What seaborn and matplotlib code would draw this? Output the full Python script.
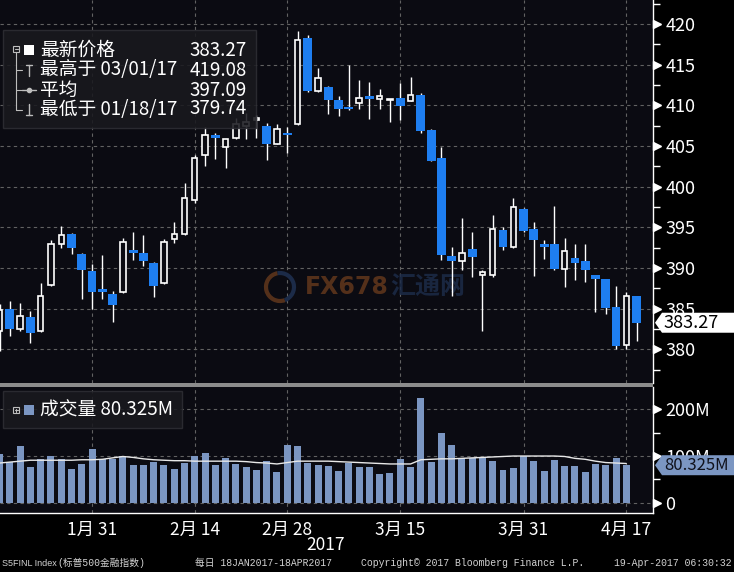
import numpy as np
import pandas as pd
import matplotlib
matplotlib.use("Agg")
import matplotlib.pyplot as plt
from matplotlib.patches import Rectangle, Polygon, Arc
from matplotlib.transforms import blended_transform_factory, ScaledTranslation, IdentityTransform
import seaborn as sns

# trading days 18 Jan - 18 Apr 2017 (NYSE closed 20 Feb and 14 Apr)
holidays = ['2017-02-20', '2017-04-14']
dates = pd.bdate_range('2017-01-18', '2017-04-18')
dates = dates[~dates.isin(pd.to_datetime(holidays))]

# S5FINL daily OHLC
opens = [382.2, 385.0, 382.5, 384.0, 382.3, 387.9, 393.0, 394.2, 391.7, 389.6,
         387.4, 386.8, 387.0, 392.2, 391.9, 390.6, 388.1, 393.6, 394.15, 398.4,
         403.9, 406.35, 404.85, 405.95, 407.5, 408.2, 407.4, 405.3, 406.6, 407.7,
         418.3, 411.75, 412.3, 410.7, 409.75, 410.3, 411.1, 410.75, 410.6, 410.9,
         410.55, 411.3, 407.0, 403.5, 391.5, 390.9, 392.3, 389.2, 389.2, 394.7,
         392.6, 397.3, 394.8, 392.95, 392.95, 389.85, 391.2, 390.8, 389.15, 388.65,
         385.2, 380.5, 386.55]
highs = [385.6, 386.0, 385.7, 384.75, 388.1, 393.45, 395.2, 394.3, 391.8, 390.5,
         391.6, 387.2, 393.7, 394.4, 394.1, 390.7, 393.6, 395.6, 400.4, 403.9,
         407.3, 406.6, 405.9, 408.5, 409.0, 408.8, 407.8, 407.7, 407.3, 419.08,
         418.6, 414.6, 412.4, 411.15, 415.0, 413.1, 412.9, 412.0, 410.75, 412.7,
         413.5, 411.55, 407.1, 404.9, 392.6, 396.2, 394.4, 389.75, 396.5, 395.1,
         398.6, 397.4, 395.6, 393.45, 397.6, 393.65, 392.95, 392.95, 389.2, 388.7,
         387.8, 387.0, 386.6]
lows = [379.74, 381.6, 382.3, 380.8, 382.1, 387.8, 392.4, 391.7, 386.2, 385.0,
        386.2, 383.4, 386.9, 391.0, 390.25, 386.4, 388.0, 393.1, 394.0, 398.0,
        402.6, 403.4, 402.3, 405.9, 405.8, 405.95, 403.3, 405.2, 404.2, 407.6,
        411.6, 411.7, 408.9, 408.7, 409.4, 409.5, 408.3, 409.5, 407.9, 408.2,
        410.5, 406.65, 403.1, 391.0, 386.55, 389.7, 388.9, 382.3, 388.9, 392.2,
        392.5, 394.4, 389.05, 391.1, 389.8, 387.7, 388.5, 388.3, 384.6, 384.4,
        380.1, 380.1, 381.0]
closes = [384.8, 382.5, 384.1, 382.0, 386.6, 393.0, 394.1, 392.4, 389.7, 387.0,
          387.1, 385.5, 393.2, 391.8, 390.8, 387.8, 393.2, 394.15, 398.6, 403.5,
          406.4, 405.95, 405.8, 407.7, 408.0, 408.5, 405.25, 407.1, 406.4, 418.0,
          411.75, 413.4, 410.7, 409.5, 409.55, 410.9, 410.8, 411.1, 410.7, 409.9,
          411.3, 406.9, 403.2, 391.6, 390.9, 391.8, 391.4, 389.5, 394.75, 392.6,
          397.5, 394.55, 393.4, 392.6, 389.85, 392.1, 390.65, 389.7, 388.7, 385.1,
          380.4, 386.5, 383.27]

# volume in millions (no bar for the last day) and its moving average
volumes = [104, 88, 121, 76, 94, 101, 94, 72, 83, 115,
           94, 93, 101, 81, 81, 88, 81, 72, 86, 99,
           106, 81, 96, 83, 76, 70, 89, 66, 124, 121,
           85, 81, 79, 68, 86, 76, 76, 61, 64, 94,
           76, 225, 88, 150, 124, 96, 96, 98, 89, 70,
           74, 100, 89, 68, 91, 79, 79, 66, 83, 81,
           96, 80.325]
vol_avg = [85, 87, 89, 91, 91, 91, 91, 91, 92, 92,
           93, 96, 99, 97, 94, 92, 91, 90, 90, 89,
           89, 89, 89, 89, 88, 86, 85, 83, 86, 89,
           89, 89, 89, 88, 87, 86, 85, 84, 83, 83,
           83, 92, 93, 94, 94, 95, 96, 97, 98, 99,
           100, 100, 100, 100, 100, 99, 95, 93, 89, 86,
           85, 84]

tick_dates = ['2017-01-31', '2017-02-14', '2017-02-28', '2017-03-15', '2017-03-31', '2017-04-17']
tick_labels = ['1月 31', '2月 14', '2月 28', '3月 15', '3月 31', '4月 17']
minor_dates = ['2017-01-20', '2017-02-07', '2017-02-21', '2017-03-08', '2017-03-23', '2017-04-07']
price_ticks = [380, 385, 390, 395, 400, 405, 410, 415, 420]
vol_ticks = [0, 100, 200]
vol_tick_labels = ['0', '100M', '200M']

bg = '#0b0b12'
blue = '#1e7ef0'
vol_color = '#7b96c2'
grid_color = '#626262'

sns.set_theme(style="dark", rc={'axes.facecolor': bg, 'figure.facecolor': 'black',
                                'savefig.facecolor': 'black'})
plt.rcParams['font.family'] = ['Noto Sans CJK SC', 'DejaVu Sans']

df = pd.DataFrame({'date': dates, 'open': opens, 'high': highs, 'low': lows, 'close': closes})
df['pos'] = np.arange(len(df))
vol_df = pd.DataFrame({'pos': df['pos'][:len(volumes)].values, 'volume': volumes, 'avg': vol_avg})

def pos_of(ds):
    return [int(np.where(df['date'] == pd.Timestamp(d))[0][0]) for d in ds]

W, H = 734, 572
fig = plt.figure(figsize=(W / 100, H / 100), dpi=100, facecolor='black')

def frac(x0, y0, x1, y1):
    return [x0 / W, 1 - y1 / H, (x1 - x0) / W, (y1 - y0) / H]

ax = fig.add_axes(frac(0, 0, 653, 383))
axv = fig.add_axes(frac(0, 387, 653, 513), sharex=ax)

# candles
up = df['close'] >= df['open']
bottom = df[['open', 'close']].min(axis=1)
height = (df['close'] - df['open']).abs().clip(lower=0.12)
ax.vlines(df['pos'], df['low'], df['high'], color='white', lw=1, zorder=3)
ax.bar(df['pos'][up], height[up], bottom=bottom[up], width=0.52,
       facecolor=bg, edgecolor='white', lw=1.2, zorder=4)
ax.bar(df['pos'][~up], height[~up], bottom=bottom[~up], width=0.86,
       color=blue, lw=0, zorder=4)

# volume
sns.barplot(data=vol_df, x='pos', y='volume', native_scale=True, width=0.68,
            color=vol_color, saturation=1, errorbar=None, linewidth=0, ax=axv)
sns.lineplot(data=vol_df, x='pos', y='avg', color='#e8e8e8', lw=1, ax=axv)

ax.set_xlim(0.04, 63.6)
ax.set_ylim(375.86, 422.95)
axv.set_ylim(-22, 247.8)

for a in (ax, axv):
    a.set_facecolor(bg)
    a.set_xlabel('')
    a.set_ylabel('')
    for s in ['top', 'left', 'bottom']:
        a.spines[s].set_visible(False)
    a.spines['right'].set_color('white')
    a.spines['right'].set_linewidth(1)
    a.yaxis.tick_right()
    a.tick_params(axis='y', which='major', length=0, pad=9, labelcolor='white', labelsize=13)
    a.tick_params(axis='y', which='minor', length=5, width=1, color='white', direction='out')
    a.grid(True, which='major', color=grid_color, ls=(0, (3, 3)), lw=0.8)
    a.set_axisbelow(True)

axv.spines['bottom'].set_visible(True)
axv.spines['bottom'].set_color('white')
axv.spines['bottom'].set_linewidth(1)

ax.set_yticks(price_ticks)
ax.set_yticks(np.arange(377.5, 423, 5), minor=True)
axv.set_yticks(vol_ticks)
axv.set_yticklabels(vol_tick_labels)
axv.set_yticks([50, 150], minor=True)

axv.set_xticks(pos_of(tick_dates))
axv.set_xticklabels(tick_labels)
axv.set_xticks(pos_of(minor_dates), minor=True)
ax.tick_params(axis='x', which='both', length=0, labelbottom=False)
axv.tick_params(axis='x', which='both', length=3, width=1, color='white', direction='out',
                labelsize=12.5, labelcolor='white', pad=3)

# triangle markers on the right axis
for a, vals in ((ax, price_ticks), (axv, vol_ticks)):
    tr = blended_transform_factory(a.transAxes, a.transData) + \
        ScaledTranslation(4 / 100, 0, fig.dpi_scale_trans)
    a.plot([1] * len(vals), vals, ls='none', marker='>', ms=6, color='white',
           transform=tr, clip_on=False, zorder=6)

# watermark
ax.text(305 / W, 1 - 287 / H, 'FX678', transform=fig.transFigure, color='#6e3d1e', alpha=0.75,
        fontsize=17, fontweight='bold', va='center', ha='left', zorder=1, family='DejaVu Sans')
ax.text(390 / W, 1 - 287 / H, '汇通网', transform=fig.transFigure, color='#1c2b48', alpha=0.85,
        fontsize=18, fontweight='bold', va='center', ha='left', zorder=1)
ax.add_patch(Arc((280, H - 287), 28, 28, theta1=100, theta2=290, color='#6e3d1e', lw=3, alpha=0.75,
                 transform=IdentityTransform(), zorder=1))
ax.add_patch(Arc((280, H - 287), 28, 28, theta1=290, theta2=460, color='#1c2b48', lw=3,
                 transform=IdentityTransform(), zorder=1))

# overlay in pixel coords for legends, tags and footer
ov = fig.add_axes([0, 0, 1, 1], zorder=10)
ov.set_xlim(0, W)
ov.set_ylim(H, 0)
ov.axis('off')
ov.patch.set_alpha(0)

# separator between panels
ov.add_patch(Rectangle((0, 383), 653, 4, color='#8c8c8c', lw=0))

# price legend box
ov.add_patch(Rectangle((3, 30), 253, 98, fc='#19191e', ec='#2e2e34', lw=1, alpha=0.88))
lc = '#bdbdbd'
ov.add_patch(Rectangle((13, 46), 6, 6, fill=False, ec=lc, lw=0.8))
ov.plot([14.5, 17.5], [49, 49], color=lc, lw=0.8)
ov.add_patch(Rectangle((24, 45), 10, 10, fc='white', lw=0))
ov.plot([16, 16], [52, 110], color=lc, lw=0.8)
for yy in (70, 90, 110):
    ov.plot([16, 22], [yy, yy], color=lc, lw=0.8)
ov.plot([29, 29], [65, 76], color=lc, lw=1)
ov.plot([26, 32], [65, 65], color=lc, lw=1)
ov.plot([22, 36], [90, 90], color=lc, lw=1)
ov.plot([29], [90], marker='o', ms=3, color=lc)
ov.plot([29, 29], [104, 115], color=lc, lw=1)
ov.plot([26, 32], [115, 115], color=lc, lw=1)

leg_rows = [('最新价格', '383.27', 50), ('最高于 03/01/17', '419.08', 70),
            ('平均', '397.09', 90), ('最低于 01/18/17', '379.74', 109)]
for lab, val, yy in leg_rows:
    ov.text(40, yy, lab, color='white', fontsize=13.5, va='center', ha='left')
    ov.text(247, yy, val, color='white', fontsize=13.5, va='center', ha='right')

# volume legend box
ov.add_patch(Rectangle((3, 391), 179, 37, fc='#19191e', ec='#2e2e34', lw=1, alpha=0.88))
ov.add_patch(Rectangle((13, 407), 6, 6, fill=False, ec=lc, lw=0.8))
ov.plot([14.5, 17.5], [410, 410], color=lc, lw=0.8)
ov.plot([16, 16], [408.5, 411.5], color=lc, lw=0.8)
ov.add_patch(Rectangle((24, 405), 10, 10, fc=vol_color, lw=0))
ov.text(40, 410, '成交量 80.325M', color='white', fontsize=13.5, va='center', ha='left')

# last value tags on the right axis
def tag(a, value, text, fc, tc, size):
    yc = H - a.transData.transform((0, value))[1]
    ov.add_patch(Polygon([(655, yc), (662, yc - 10), (734, yc - 10), (734, yc + 10),
                          (662, yc + 10)], closed=True, fc=fc, lw=0))
    ov.text(664, yc, text, color=tc, fontsize=size, va='center', ha='left')

tag(ax, closes[-1], '383.27', 'white', 'black', 13)
tag(axv, volumes[-1], '80.325M', vol_color, '#10121c', 12)

# footer
ov.text(326, 545, '2017', color='white', fontsize=12.5, va='center', ha='center')
mono = ['Liberation Mono', 'Noto Sans CJK SC']
fc_txt = '#d2d2d2'
ov.text(2, 563, 'S5FINL Index', color=fc_txt, fontsize=6.5, va='center', ha='left',
        family=['Liberation Sans', 'Noto Sans CJK SC'])
ov.text(57, 563, '(标普500金融指数)', color=fc_txt, fontsize=7, va='center', ha='left', family=mono)
ov.text(195, 563, '每日 18JAN2017-18APR2017', color=fc_txt, fontsize=7, va='center', ha='left', family=mono)
ov.text(361, 563, 'Copyright© 2017 Bloomberg Finance L.P.', color=fc_txt, fontsize=7.1,
        va='center', ha='left', family=mono)
ov.text(732, 563, '19-Apr-2017 06:30:32', color=fc_txt, fontsize=7.1, va='center', ha='right', family=mono)

fig.savefig('out.png', dpi=100, facecolor='black')
